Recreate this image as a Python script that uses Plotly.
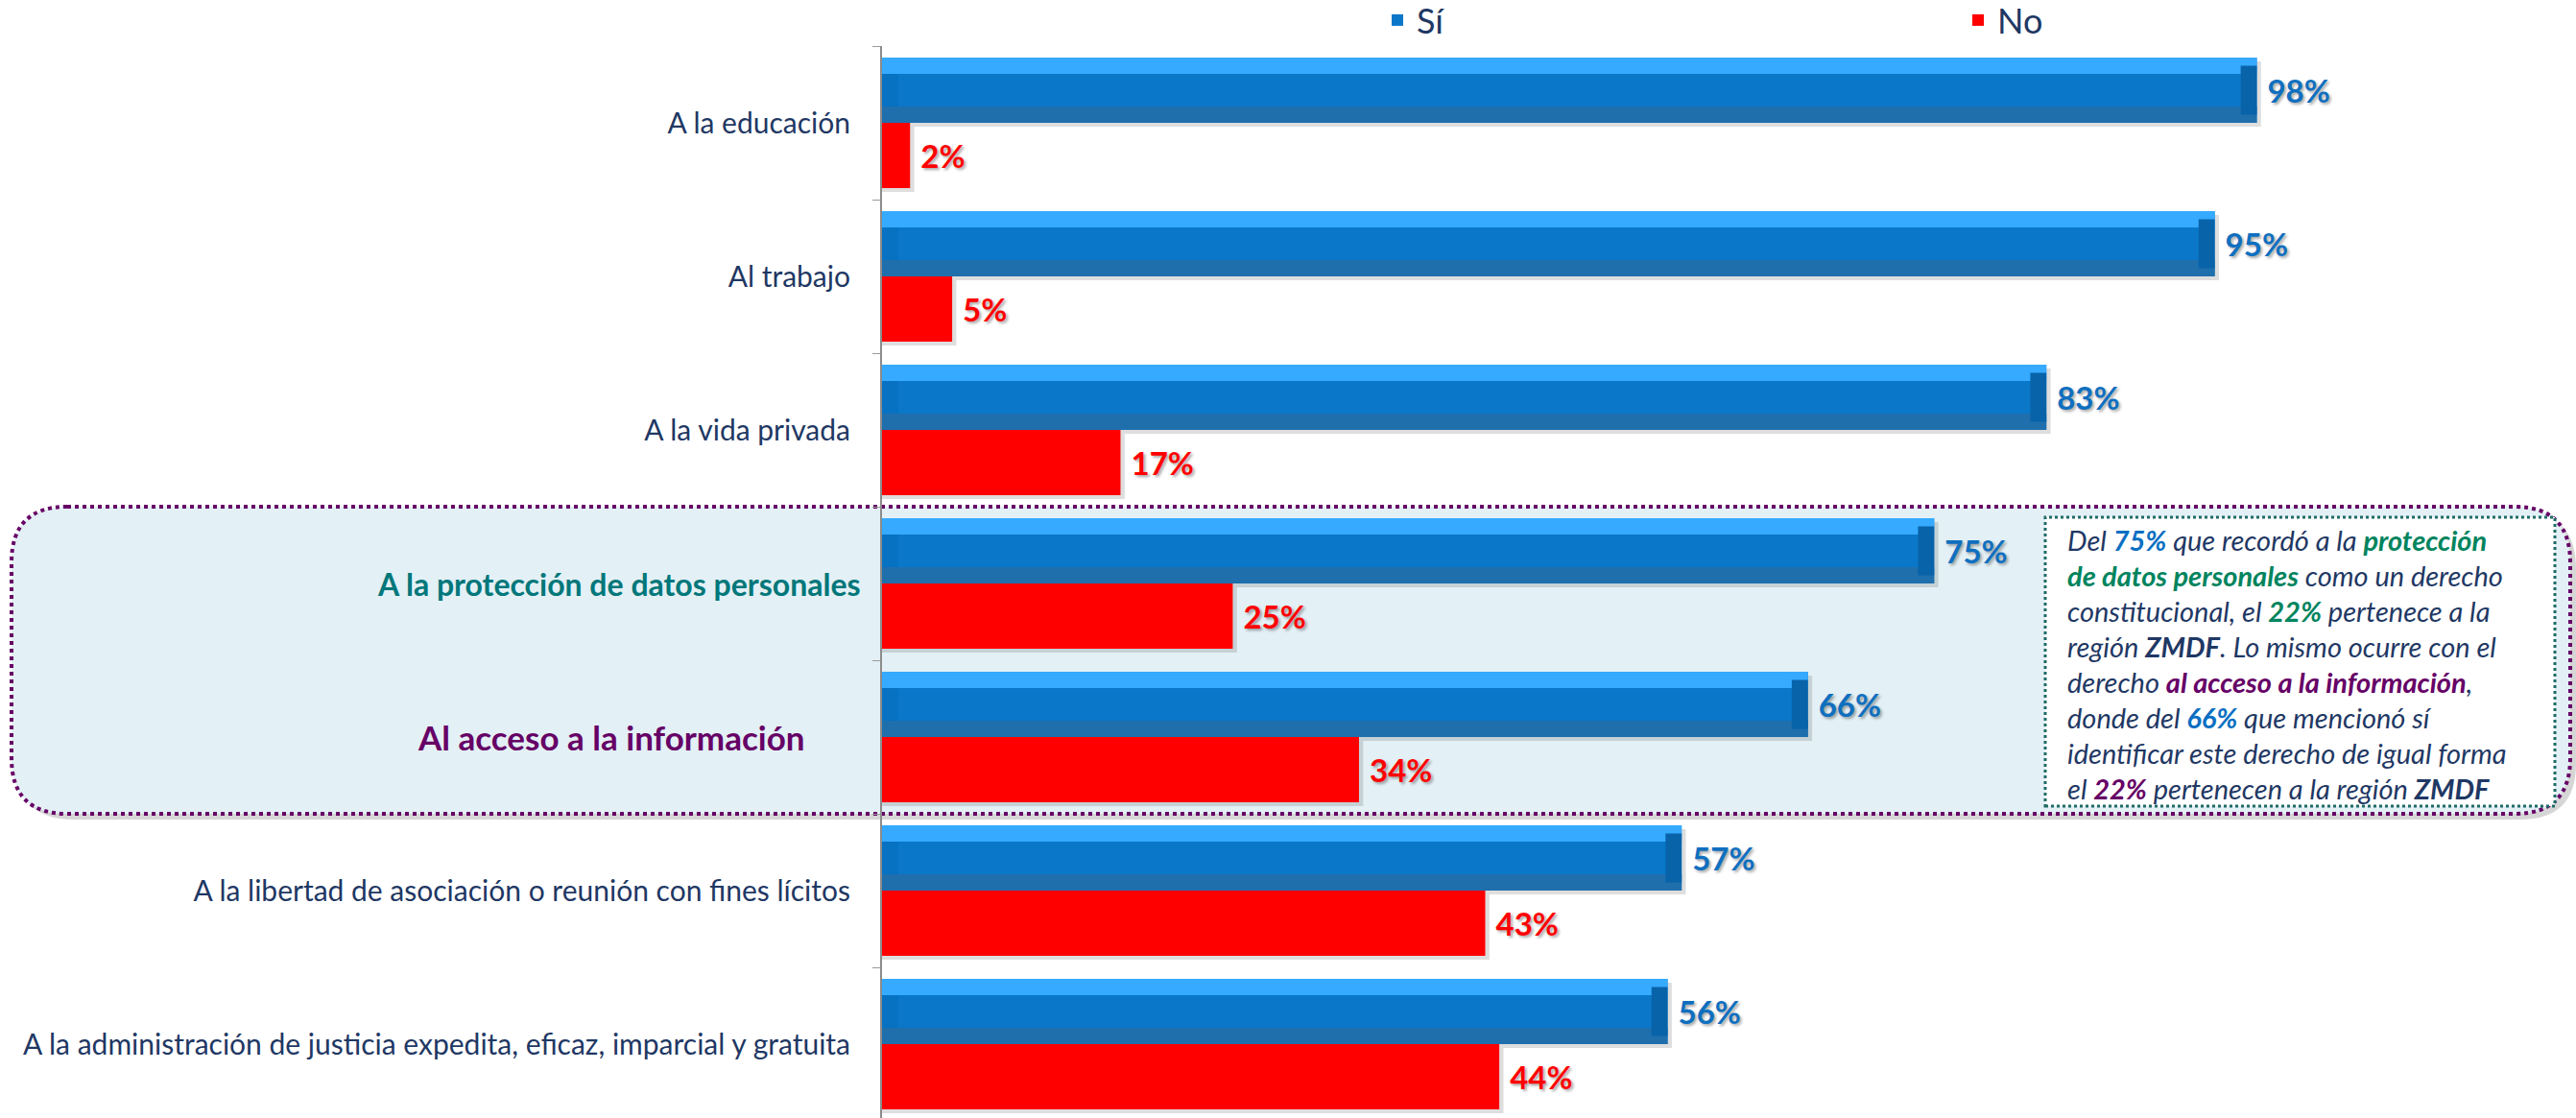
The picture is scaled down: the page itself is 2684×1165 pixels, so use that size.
import plotly.graph_objects as go

# ---------------- data ----------------
categories = [
    "A la educación",
    "Al trabajo",
    "A la vida privada",
    "A la protección de datos personales",
    "Al acceso a la información",
    "A la libertad de asociación o reunión con fines lícitos",
    "A la administración de justicia expedita, eficaz, imparcial y gratuita",
]
si_values = [98, 95, 83, 75, 66, 57, 56]
no_values = [2, 5, 17, 25, 34, 43, 44]
series_names = ["Sí", "No"]
highlight_colors = {
    "A la protección de datos personales": "#00777A",
    "Al acceso a la información": "#660066",
}
note_lines = [
    "Del <b><span style='color:#0A6FC2'>75%</span></b> que recordó a la <b><span style='color:#00845E'>protección</span></b>",
    "<b><span style='color:#00845E'>de datos personales</span></b> como un derecho",
    "constitucional, el <b><span style='color:#00845E'>22%</span></b> pertenece a la",
    "región <b>ZMDF</b>. Lo mismo ocurre con el",
    "derecho <b><span style='color:#660066'>al acceso a la información</span></b>,",
    "donde del <b><span style='color:#0A6FC2'>66%</span></b> que mencionó sí",
    "identificar este derecho de igual forma",
    "el <b><span style='color:#660066'>22%</span></b> pertenecen a la región <b>ZMDF</b>",
]

# ---------------- layout geometry ----------------
W, H = 2684, 1165
ML, MR, MT, MB = 919, 11, 48, 0
PW, PH = W - ML - MR, H - MT - MB
X_MAX = 120
CAT_PX = 160.0
NAVY = "#1F3864"
FONT = "Lato"


def px2x(px):
    return (px - ML) / PW


def py2y(py):
    return 1 - (py - MT) / PH


def rounded_rect(x0, y0, x1, y1, r):
    rx, ry = r / PW, r / PH
    X0, X1 = px2x(x0), px2x(x1)
    Y0, Y1 = py2y(y0), py2y(y1)  # Y0 top, Y1 bottom
    return (f"M {X0+rx},{Y0} L {X1-rx},{Y0} Q {X1},{Y0} {X1},{Y0-ry} "
            f"L {X1},{Y1+ry} Q {X1},{Y1} {X1-rx},{Y1} "
            f"L {X0+rx},{Y1} Q {X0},{Y1} {X0},{Y1+ry} "
            f"L {X0},{Y0-ry} Q {X0},{Y0} {X0+rx},{Y0} Z")


BW = 0.425  # bar thickness in category units
STRIP = BW * 0.25
END = 1.15  # bevel end length in % units

fig = go.Figure()

common = dict(orientation="h", y=categories, hoverinfo="skip", showlegend=False)

# shadows
fig.add_trace(go.Bar(x=[v + 0.3 for v in si_values], offset=-BW + 0.025, width=BW,
                     marker=dict(color="rgba(0,0,0,0.13)", line_width=0), **common))
fig.add_trace(go.Bar(x=[v + 0.3 for v in no_values], offset=0.025, width=BW,
                     marker=dict(color="rgba(0,0,0,0.13)", line_width=0), **common))

# Sí main bar
fig.add_trace(go.Bar(
    x=si_values, y=categories, orientation="h", name=series_names[0],
    offset=-BW, width=BW,
    marker=dict(color="#0A77C9", line_width=0),
    text=[f" {v}%" for v in si_values], textposition="outside",
    textfont=dict(family=FONT, size=33, color="#0F6FC0", weight="bold",
                  shadow="2px 2px 3px rgba(0,0,0,0.35)"),
    cliponaxis=False, hoverinfo="skip", showlegend=True,
))
# bevel strips
fig.add_trace(go.Bar(x=si_values, offset=-BW, width=STRIP,
                     marker=dict(color="#35AAFF", line_width=0), **common))
fig.add_trace(go.Bar(x=si_values, offset=-STRIP, width=STRIP,
                     marker=dict(color="#1F6FAD", line_width=0), **common))
fig.add_trace(go.Bar(x=[END] * len(si_values), base=[v - END for v in si_values],
                     offset=-BW + STRIP * 0.5, width=BW - STRIP,
                     marker=dict(color="#0863A9", line_width=0), **common))
fig.add_trace(go.Bar(x=[END] * len(si_values), base=[0] * len(si_values),
                     offset=-BW + STRIP, width=BW - 2 * STRIP,
                     marker=dict(color="#0771C2", line_width=0), **common))

# No bar
fig.add_trace(go.Bar(
    x=no_values, y=categories, orientation="h", name=series_names[1],
    offset=0, width=BW,
    marker=dict(color="#FF0000", line_width=0),
    text=[f" {v}%" for v in no_values], textposition="outside",
    textfont=dict(family=FONT, size=33, color="#FF0000", weight="bold",
                  shadow="2px 2px 3px rgba(0,0,0,0.35)"),
    cliponaxis=False, hoverinfo="skip", showlegend=True,
))

shapes = [
    dict(type="path", xref="paper", yref="paper", layer="below",
         path=rounded_rect(18, 534, 2684, 854, 58),
         fillcolor="rgba(0,0,0,0.16)", line_width=0),
    dict(type="path", xref="paper", yref="paper", layer="below",
         path=rounded_rect(12, 528, 2678, 848, 58),
         fillcolor="#E3F0F5", line=dict(color="#660066", width=4, dash="dot")),
    dict(type="rect", xref="paper", yref="paper", layer="above",
         x0=px2x(2131), x1=px2x(2662), y0=py2y(840), y1=py2y(539),
         fillcolor="#FFFFFF", line=dict(color="#1E6B66", width=3, dash="dot")),
]

annotations = []
for cat, col in highlight_colors.items():
    is_prot = cat.startswith("A la protección")
    annotations.append(dict(
        xref="paper", yref="y", x=px2x(899 if is_prot else 841), y=cat,
        xanchor="right", yanchor="middle",
        text=f"<b>{cat}</b>", showarrow=False,
        font=dict(family=FONT, size=32 if is_prot else 35, color=col),
    ))
for i, line in enumerate(note_lines):
    annotations.append(dict(
        xref="paper", yref="paper", x=px2x(2152), y=py2y(562 + 37.0 * i),
        xanchor="left", yanchor="middle", text=f"<i>{line}</i>", showarrow=False,
        font=dict(family=FONT, size=29, color=NAVY),
    ))

ticktext = ["" if c in highlight_colors else c for c in categories]

fig.update_layout(
    width=W, height=H,
    margin=dict(l=ML, r=MR, t=MT, b=MB, pad=0, autoexpand=False),
    barmode="overlay",
    paper_bgcolor="white", plot_bgcolor="rgba(0,0,0,0)",
    xaxis=dict(range=[0, X_MAX], visible=False, fixedrange=True),
    yaxis=dict(type="category", categoryorder="array", categoryarray=categories,
               range=[-0.5 + PH / CAT_PX, -0.5], tickvals=categories, ticktext=ticktext,
               tickson="boundaries", ticks="outside", ticklen=8, tickcolor="#9A9A9A",
               showline=True, linecolor="#8C8C8C", linewidth=2, showgrid=False,
               zeroline=False, ticklabelstandoff=25,
               tickfont=dict(family=FONT, size=30, color=NAVY)),
    legend=dict(orientation="h", x=px2x(1436), y=py2y(21), xanchor="left", yanchor="middle",
                entrywidth=560, entrywidthmode="pixels",
                font=dict(family=FONT, size=36, color=NAVY), bgcolor="rgba(0,0,0,0)",
                traceorder="normal"),
    shapes=shapes,
    annotations=annotations,
    showlegend=True,
)

fig.write_html("out.html", config={"displayModeBar": False},
               post_script="document.body.style.margin='0';document.body.style.overflow='hidden';")
